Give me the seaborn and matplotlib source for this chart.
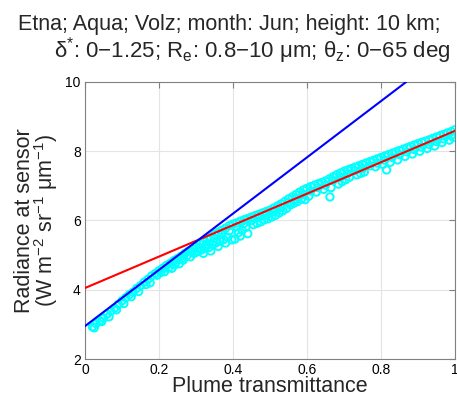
"""Etna plume: radiance at sensor vs plume transmittance"""
import matplotlib
matplotlib.use("Agg")
import matplotlib.pyplot as plt
import seaborn as sns

# upper (dense) band of simulated points
x_band = [0.02, 0.03, 0.04, 0.05, 0.06, 0.07, 0.08, 0.09, 0.10, 0.11, 0.12, 0.13, 0.14,
          0.15, 0.16, 0.17, 0.18, 0.19, 0.20, 0.21, 0.22, 0.23, 0.24, 0.25, 0.26, 0.27,
          0.28, 0.29, 0.30, 0.31, 0.32, 0.33, 0.34, 0.35, 0.36, 0.37, 0.38, 0.39, 0.40,
          0.41, 0.42, 0.43, 0.44, 0.45, 0.46, 0.47, 0.48, 0.49, 0.50, 0.51, 0.52, 0.53,
          0.54, 0.55, 0.56, 0.57, 0.58, 0.59, 0.60, 0.61, 0.62, 0.63, 0.64, 0.65, 0.66,
          0.67, 0.68, 0.69, 0.70, 0.71, 0.72, 0.73, 0.74, 0.75, 0.76, 0.77, 0.78, 0.79,
          0.80, 0.81, 0.82, 0.83, 0.84, 0.85, 0.86, 0.87, 0.88, 0.89, 0.90, 0.91, 0.92,
          0.93, 0.94, 0.95, 0.96, 0.97, 0.98, 0.99, 1.00]
y_band = [2.93, 3.02, 3.10, 3.18, 3.30, 3.38, 3.47, 3.58, 3.68, 3.77, 3.86, 3.93, 4.04,
          4.12, 4.22, 4.30, 4.40, 4.47, 4.55, 4.62, 4.70, 4.76, 4.84, 4.90, 4.97, 5.05,
          5.12, 5.18, 5.25, 5.32, 5.40, 5.46, 5.52, 5.60, 5.66, 5.72, 5.78, 5.85, 5.90,
          5.93, 5.98, 6.02, 6.06, 6.10, 6.14, 6.18, 6.22, 6.26, 6.30, 6.36, 6.42, 6.48,
          6.55, 6.62, 6.68, 6.75, 6.82, 6.88, 6.93, 6.98, 7.02, 7.06, 7.10, 7.14, 7.20,
          7.26, 7.32, 7.37, 7.42, 7.46, 7.50, 7.54, 7.58, 7.62, 7.66, 7.70, 7.74, 7.78,
          7.82, 7.86, 7.90, 7.94, 7.98, 8.02, 8.06, 8.10, 8.14, 8.18, 8.22, 8.26, 8.29,
          8.33, 8.37, 8.41, 8.45, 8.49, 8.53, 8.57, 8.62]

# points in the middle of the band
x_mid = [0.205, 0.225, 0.245, 0.265, 0.275, 0.29, 0.31, 0.33, 0.35, 0.37, 0.39, 0.41,
         0.43, 0.45, 0.47, 0.49, 0.51, 0.53, 0.55, 0.57, 0.59, 0.61, 0.63, 0.65, 0.67,
         0.69, 0.71, 0.73, 0.75, 0.77, 0.79, 0.81, 0.83, 0.85, 0.87, 0.89, 0.91, 0.93,
         0.95, 0.97, 0.99]
y_mid = [4.50, 4.62, 4.78, 4.92, 4.98, 5.10, 5.22, 5.32, 5.48, 5.60, 5.70, 5.82,
         5.92, 6.00, 6.08, 6.15, 6.25, 6.38, 6.52, 6.62, 6.75, 6.85, 6.95, 7.02, 7.15,
         7.25, 7.35, 7.44, 7.50, 7.58, 7.66, 7.74, 7.82, 7.90, 7.98, 8.05, 8.12, 8.20,
         8.28, 8.36, 8.45]

# scattered points below the band
x_low = [0.025, 0.045, 0.065, 0.085, 0.105, 0.125, 0.145, 0.165, 0.176, 0.195, 0.215,
         0.235, 0.243, 0.255, 0.265, 0.285, 0.295, 0.305, 0.315, 0.325, 0.335, 0.345,
         0.355, 0.365, 0.375, 0.385, 0.397, 0.405, 0.415, 0.425, 0.435, 0.455, 0.465,
         0.475, 0.485, 0.495, 0.505, 0.515, 0.525, 0.535, 0.545, 0.555, 0.565, 0.575,
         0.585, 0.595, 0.605, 0.625, 0.645, 0.662, 0.665, 0.685, 0.695, 0.705, 0.715,
         0.735, 0.745, 0.755, 0.785, 0.805, 0.815, 0.825, 0.845, 0.865, 0.885, 0.905,
         0.925, 0.945, 0.965, 0.985, 0.995, 0.32, 0.34, 0.36, 0.38, 0.42, 0.44]
y_low = [2.90, 3.08, 3.22, 3.42, 3.60, 3.80, 3.95, 4.15, 4.20, 4.42, 4.52,
         4.62, 4.72, 4.75, 4.85, 4.95, 5.05, 5.10, 5.15, 5.20, 5.22, 5.30,
         5.36, 5.40, 5.45, 5.52, 5.44, 5.46, 5.65, 5.72, 5.80, 5.88, 5.92,
         5.96, 6.02, 6.05, 6.10, 6.15, 6.22, 6.28, 6.35, 6.45, 6.50, 6.55,
         6.62, 6.60, 6.70, 6.82, 6.90, 6.68, 6.95, 7.05, 7.12, 7.18, 7.25,
         7.32, 7.36, 7.40, 7.55, 7.62, 7.46, 7.68, 7.75, 7.85, 7.92, 8.00,
         8.08, 8.15, 8.25, 8.32, 8.40, 5.05, 5.12, 5.25, 5.35, 5.55, 5.62]

# fitted lines (end points)
red_x = [0.0, 1.0]
red_y = [4.05, 8.59]
blue_x = [0.0, 0.868]
blue_y = [2.95, 10.0]

title_1 = "Etna; Aqua; Volz; month: Jun; height: 10 km;"
title_2 = "δ$^{*}$: 0−1.25; R$_{\\mathrm{e}}$: 0.8−10 μm; θ$_{\\mathrm{z}}$: 0−65 deg"

sns.set_style("white")
plt.rcParams["font.family"] = ["Liberation Sans", "DejaVu Sans"]
plt.rcParams["mathtext.fontset"] = "custom"
plt.rcParams["mathtext.rm"] = "Liberation Sans"
plt.rcParams["mathtext.it"] = "Liberation Sans:italic"

fig = plt.figure(figsize=(4.57, 3.97), dpi=100)
ax = fig.add_axes([0.186, 0.0957, 0.8096, 0.6978])

pts_x = x_band + x_mid + x_low
pts_y = y_band + y_mid + y_low
sns.scatterplot(x=pts_x, y=pts_y, ax=ax, marker="o", s=28, fc="none",
                ec="#00ffff", linewidth=1.4, zorder=3)
sns.lineplot(x=red_x, y=red_y, ax=ax, color="#ff0000", linewidth=1.5, zorder=4)
sns.lineplot(x=blue_x, y=blue_y, ax=ax, color="#0000ff", linewidth=1.5, zorder=5)

ax.set_xlim(0, 1)
ax.set_ylim(2, 10)
ax.set_xticks([0, 0.2, 0.4, 0.6, 0.8, 1])
ax.set_xticklabels(["0", "0.2", "0.4", "0.6", "0.8", "1"])
ax.set_yticks([2, 4, 6, 8, 10])
ax.grid(True, color="#e4e4e4", linewidth=0.8)
ax.set_axisbelow(True)
for sp in ax.spines.values():
    sp.set_color("#808080")
    sp.set_linewidth(0.8)
ax.tick_params(direction="in", length=4, width=0.8, color="#808080",
               labelsize=10, labelcolor="black", top=True, right=True, pad=3)

ax.set_xlabel("Plume transmittance", fontsize=15.5, labelpad=-1)
ax.set_ylabel("Radiance at sensor\n(W m$^{-2}$ sr$^{-1}$ μm$^{-1}$)", fontsize=15.5,
              labelpad=4, linespacing=0.85)

fig.text(0.501, 0.925, title_1, ha="center", va="baseline", fontsize=15.5)
fig.text(0.551, 0.855, title_2, ha="center", va="baseline", fontsize=16)

fig.savefig("out.png", dpi=100)
